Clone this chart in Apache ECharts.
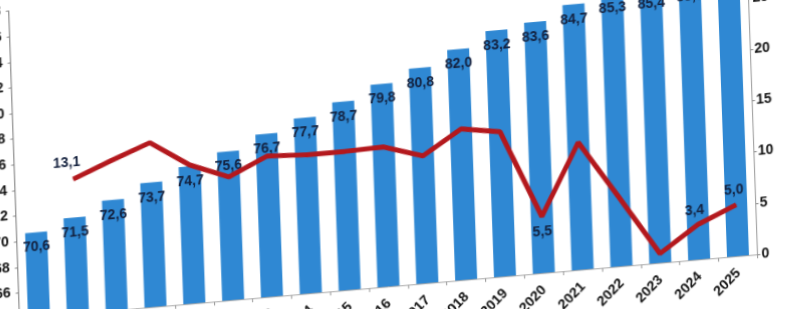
<!DOCTYPE html>
<html>
<head>
<meta charset="utf-8">
<script src="https://cdn.jsdelivr.net/npm/echarts@6/dist/echarts.min.js"></script>
<style>
  html, body { margin: 0; padding: 0; width: 791px; height: 309px; overflow: hidden; background: #ffffff; }
  #wrap { position: absolute; left: -60px; top: -70px; width: 900px; height: 410px;
          transform-origin: 798px 326px; transform: matrix(1, -0.087, 0.035, 1, 0, 0); }
  #chart { width: 900px; height: 410px; }
</style>
</head>
<body>
<div id="wrap"><div id="chart"></div></div>
<script>
const years = ['2007','2008','2009','2010','2011','2012','2013','2014','2015','2016',
               '2017','2018','2019','2020','2021','2022','2023','2024','2025'];
const barValues = [70.6, 71.5, 72.6, 73.7, 74.7, 75.6, 76.7, 77.7, 78.7, 79.8,
                   80.8, 82.0, 83.2, 83.6, 84.7, 85.3, 85.4, 85.7, 86.1];
const lineValues = [null, 13.1, 14.6, 16.0, 13.5, 12.0, 13.7, 13.5, 13.5, 13.6,
                    12.4, 14.7, 14.1, 5.5, 12.4, 6.7, 0.9, 3.4, 5.0];
const leftTicks = { min: 64, max: 88, step: 2 };
const rightTicks = { min: 0, max: 30, step: 5 };
const labelledLinePoints = ['2008', '2020', '2024', '2025'];

const FONT = '"Liberation Sans Narrow", "Arial Narrow", "Liberation Sans", sans-serif';
const fmt = v => Number(v).toFixed(1).replace('.', ',');

const lineLabelCfg = {
  '2008': { position: 'top', offset: [-6, -4] },
  '2020': { position: 'bottom', distance: 8 },
  '2024': { position: 'top', offset: [-3, -2] },
  '2025': { position: 'top', offset: [-2, -2] }
};

const lineData = lineValues.map((v, i) => {
  const y = years[i];
  if (v !== null && labelledLinePoints.includes(y)) {
    return { value: v, label: Object.assign({ show: true }, lineLabelCfg[y]) };
  }
  return v;
});

const chart = echarts.init(document.getElementById('chart'), null, { renderer: 'canvas' });
chart.setOption({
  animation: false,
  backgroundColor: 'transparent',
  grid: { left: 79.6, right: 82.6, top: 18.5, bottom: 84, containLabel: false },
  xAxis: {
    type: 'category',
    data: years,
    boundaryGap: true,
    axisLine: { show: true, lineStyle: { color: '#aaaaaa', width: 1 } },
    axisTick: { show: true, length: 4, lineStyle: { color: '#999999' } },
    axisLabel: { rotate: 42, margin: 15, color: '#111111', fontFamily: FONT, fontWeight: 'bold', fontSize: 14, interval: 0 }
  },
  yAxis: [
    {
      type: 'value', min: leftTicks.min, max: leftTicks.max, interval: leftTicks.step,
      position: 'left',
      axisLine: { show: true, lineStyle: { color: '#777777', width: 1 } },
      axisTick: { show: true, length: 3, lineStyle: { color: '#888888' } },
      splitLine: { show: false },
      axisLabel: { color: '#111111', fontFamily: FONT, fontWeight: 'bold', fontSize: 14, margin: 8 }
    },
    {
      type: 'value', min: rightTicks.min, max: rightTicks.max, interval: rightTicks.step,
      position: 'right',
      axisLine: { show: true, lineStyle: { color: '#999999', width: 1 } },
      axisTick: { show: true, length: 3, lineStyle: { color: '#888888' } },
      splitLine: { show: false },
      axisLabel: { color: '#111111', fontFamily: FONT, fontWeight: 'bold', fontSize: 14, margin: 4 }
    }
  ],
  series: [
    {
      type: 'bar',
      yAxisIndex: 0,
      data: barValues,
      barWidth: 22,
      itemStyle: { color: '#2f88d3' },
      label: {
        show: true, position: 'insideTop', distance: 8,
        color: '#13203d', fontFamily: FONT, fontWeight: 'bold', fontSize: 14,
        formatter: p => fmt(p.value)
      },
      z: 2
    },
    {
      type: 'line',
      yAxisIndex: 1,
      data: lineData,
      symbol: 'circle',
      symbolSize: 1,
      showSymbol: true,
      lineStyle: { color: '#b3181d', width: 5 },
      itemStyle: { color: '#b3181d' },
      label: {
        show: false,
        color: '#13203d', fontFamily: FONT, fontWeight: 'bold', fontSize: 14,
        formatter: p => fmt(p.value)
      },
      z: 3
    }
  ]
});
</script>
</body>
</html>
